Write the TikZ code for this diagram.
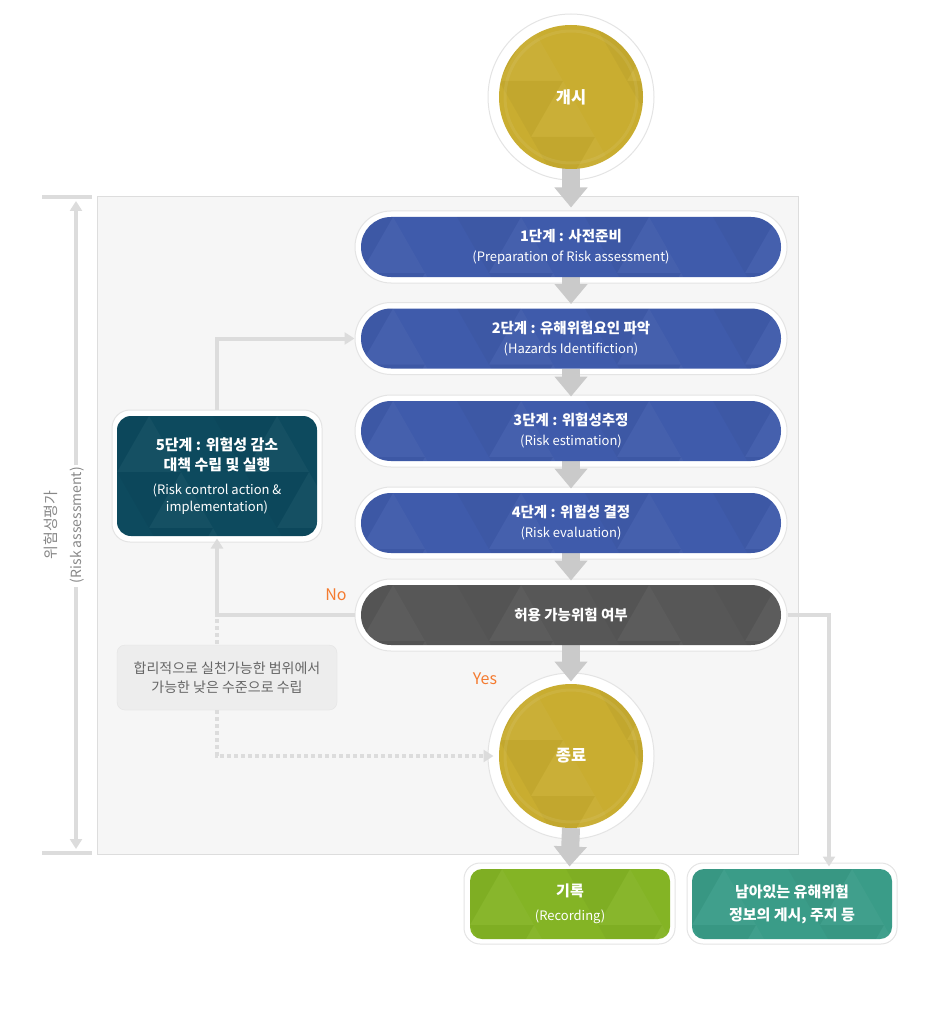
\documentclass[tikz,border=0pt]{standalone}
\usepackage{fontspec}
\setmainfont{Noto Sans CJK KR}
\usetikzlibrary{arrows.meta,calc}
\definecolor{panelbg}{HTML}{F6F6F6}
\definecolor{panelline}{HTML}{DDDDDD}
\definecolor{ringline}{HTML}{E4E4E4}
\definecolor{fatgray}{HTML}{CACACA}
\definecolor{thingray}{HTML}{DCDCDC}
\definecolor{gold}{HTML}{C9AD30}
\definecolor{stepblue}{HTML}{3F5BAB}
\definecolor{stepteal}{HTML}{0D4A5E}
\definecolor{decgray}{HTML}{575757}
\definecolor{recgreen}{HTML}{84B425}
\definecolor{remteal}{HTML}{3A9C88}
\definecolor{orangetxt}{HTML}{F47B30}
\definecolor{notetxt}{HTML}{666666}
\definecolor{sidetxt}{HTML}{888888}
\newcommand{\onetri}[3]{% i, j, colour/opacity spec
  \pgfmathtruncatemacro\tpar{mod(#1+#2+40,2)}%
  \ifnum\tpar=0
    \fill[#3, sharp corners] ($(path picture bounding box.north west)+(#1*32pt,-#2*56pt-56pt)$) -- ++(64pt,0pt) -- ++(-32pt,56pt) -- cycle;
  \else
    \fill[#3, sharp corners] ($(path picture bounding box.north west)+(#1*32pt,-#2*56pt)$) -- ++(64pt,0pt) -- ++(-32pt,-56pt) -- cycle;
  \fi
}
\newcommand{\tritex}{%
  \foreach \i in {-2,...,14}{%
    \foreach \j in {0,...,2}{%
      \pgfmathtruncatemacro\tkk{mod(\i*7+\j*13+40,4)}%
      \ifcase\tkk
        \onetri{\i}{\j}{white,opacity=0.035}%
      \or
        \onetri{\i}{\j}{black,opacity=0.03}%
      \fi
    }%
  }%
}
\tikzset{
  ringpill/.style={draw=ringline, line width=1pt, fill=white, rounded corners=36pt, minimum width=432pt, minimum height=72pt, inner sep=0pt},
  pill/.style={fill=stepblue, text=white, rounded corners=30pt, minimum width=420pt, minimum height=60pt, inner sep=0pt, align=center, font=\fontsize{13}{20}\selectfont, path picture={\tritex}},
  ringcirc/.style={circle, draw=ringline, line width=1pt, fill=white, minimum size=166pt, inner sep=0pt},
  goldcirc/.style={circle, fill=gold, text=white, minimum size=144pt, inner sep=0pt, font=\fontsize{16.5}{20}\selectfont\bfseries, path picture={\tritex \draw[white, opacity=0.07, line width=3pt] (path picture bounding box.center) circle[radius=66pt];}},
  ringbox/.style={draw=ringline, line width=1pt, fill=white, rounded corners=16pt, inner sep=0pt},
  innerbox/.style={text=white, rounded corners=12pt, inner sep=0pt, align=center, path picture={\tritex}},
  fat/.style={draw=fatgray, line width=18pt, -{Triangle[width=32pt,length=20pt]}},
  conn/.style={draw=thingray, line width=4pt, -{Triangle[width=12pt,length=10pt]}},
  dotconn/.style={draw=thingray, line width=4pt, dash pattern=on 4pt off 3pt, -{Triangle[width=12pt,length=10pt]}},
  plainline/.style={draw=thingray, line width=4pt}
}
\newcommand{\twol}[2]{{\fontsize{14.5}{20}\selectfont\bfseries #1}\\{\fontsize{13}{20}\selectfont #2}}
\begin{document}
\begin{tikzpicture}[x=1pt,y=-1pt]
\useasboundingbox (0,0) rectangle (950,1032);
% panel
\node[draw=panelline, fill=panelbg, line width=1pt, minimum width=701pt, minimum height=658pt, inner sep=0pt, anchor=north west] (panel) at (97,196) {};

% side scale
\draw[plainline] (42,197) -- (92,197);
\draw[plainline] (42,853) -- (92,853);
\node[rotate=90, align=center, text=sidetxt, inner sep=0pt, font=\fontsize{14}{25}\selectfont] (side) at (64.5,525) {{\fontsize{15}{25}\selectfont 위험성평가}\\{\fontsize{14}{25}\selectfont (Risk assessment)}};
\coordinate (sGapTop) at (76,465);
\coordinate (sGapBot) at (76,587);
\draw[conn] (sGapTop) -- (76,201);
\draw[conn] (sGapBot) -- (76,849);

% rings
\node[ringcirc] (starto) at (571,97) {};
\node[ringpill] (s1o) at (571,247) {};
\node[ringpill] (s2o) at (571,338.5) {};
\node[ringpill] (s3o) at (571,431) {};
\node[ringpill] (s4o) at (571,523) {};
\node[ringpill] (deco) at (571,615) {};
\node[ringcirc] (endo) at (571,756) {};
\node[ringbox, minimum width=210pt, minimum height=132pt, rounded corners=18pt] (s5o) at (217,476) {};
\node[ringbox, minimum width=211pt, minimum height=81pt] (reco) at (569.5,903.5) {};
\node[ringbox, minimum width=210pt, minimum height=81pt] (remo) at (792,903.5) {};

% thin connectors
\draw[conn] (deco.west) -| ([yshift=4pt]s5o.south);
\draw[conn] (s5o.north) |- (s2o.west);
\draw[conn] (deco.east) -| ([xshift=37pt,yshift=-4pt]remo.north);
\coordinate (d1) at (217,619);
\node[draw=ringline, fill=black!7, rounded corners=8pt, minimum width=220pt, minimum height=65pt, inner sep=0pt, align=center, text=notetxt, font=\fontsize{14}{19}\selectfont] (note) at (227,677.5) {합리적으로 실천가능한 범위에서\\가능한 낮은 수준으로 수립};
\draw[thingray, line width=4pt, dash pattern=on 4pt off 3pt] (d1) -- (d1 |- note.north);
\draw[dotconn] (d1 |- note.south) -- (d1 |- endo.west) -- ([xshift=6pt]endo.west);

% fat arrows
\draw[fat] (571,168) -- ([yshift=3pt]s1o.north);
\draw[fat] (571,277) -- ([yshift=-2pt]s2o.north);
\draw[fat] (571,369) -- ([yshift=-2pt]s3o.north);
\draw[fat] (571,461) -- ([yshift=-2pt]s4o.north);
\draw[fat] (571,553) -- ([yshift=-2pt]deco.north);
\draw[fat] (571,645) -- ([yshift=-9pt]endo.north);
\draw[fat] (571,828) -- ([yshift=-4pt]reco.north);

% inner shapes
\node[goldcirc] (start) at (571,97) {개시};
\node[pill] (s1) at (571,247) {\twol{1단계 : 사전준비}{(Preparation of Risk assessment)}};
\node[pill] (s2) at (571,338.5) {\twol{2단계 : 유해위험요인 파악}{(Hazards Identifiction)}};
\node[pill] (s3) at (571,431) {\twol{3단계 : 위험성추정}{(Risk estimation)}};
\node[pill] (s4) at (571,523) {\twol{4단계 : 위험성 결정}{(Risk evaluation)}};
\node[pill, fill=decgray, font=\fontsize{14.5}{19}\selectfont\bfseries] (dec) at (571,615) {허용 가능위험 여부};
\node[goldcirc] (end) at (571,756) {종료};
\node[innerbox, fill=stepteal, minimum width=200pt, minimum height=120pt, rounded corners=14pt, font=\fontsize{13}{17}\selectfont] (s5) at (217,476) {{\fontsize{15}{20}\selectfont\bfseries 5단계 : 위험성 감소}\\[3pt]{\fontsize{15}{20}\selectfont\bfseries 대책 수립 및 실행}\\[7pt]{(Risk control action \&}\\{implementation)}};
\node[innerbox, fill=recgreen, minimum width=200pt, minimum height=70pt, font=\fontsize{13}{24}\selectfont] (rec) at (570,904) {{\fontsize{15}{24}\selectfont\bfseries 기록}\\(Recording)};
\node[innerbox, fill=remteal, minimum width=200pt, minimum height=70pt, font=\fontsize{15}{23}\selectfont\bfseries] (rem) at (792,904) {남아있는 유해위험\\정보의 게시, 주지 등};

% labels
\node[text=orangetxt, font=\fontsize{16}{20}\selectfont, inner sep=0pt] (no) at (336,595) {No};
\node[text=orangetxt, font=\fontsize{16}{20}\selectfont, inner sep=0pt] (yes) at (485,679) {Yes};
\end{tikzpicture}
\end{document}
